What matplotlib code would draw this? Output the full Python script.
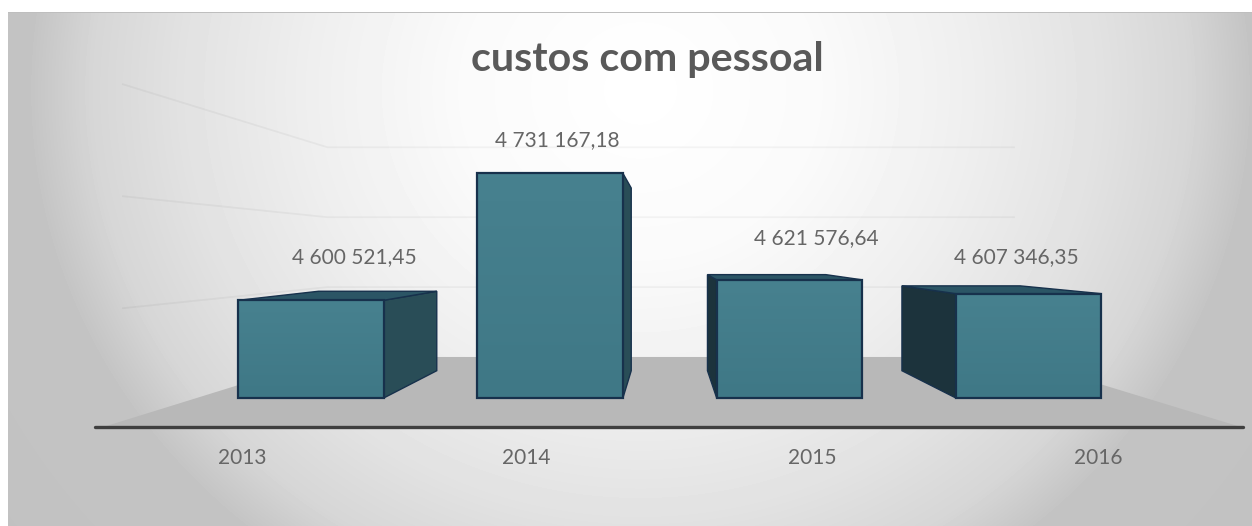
import numpy as np
import matplotlib
matplotlib.use("Agg")
import matplotlib.pyplot as plt
from matplotlib.colors import LinearSegmentedColormap
from matplotlib.patches import Polygon, Rectangle

categories = ["2013", "2014", "2015", "2016"]
values = [4600521.45, 4731167.18, 4621576.64, 4607346.35]
value_labels = ["4 600 521,45", "4 731 167,18", "4 621 576,64", "4 607 346,35"]
gridline_values = [4600000, 4700000, 4800000]
title = "custos com pessoal"

W, H = 1252, 526
plt.rcParams["font.family"] = ["Lato", "DejaVu Sans"]
fig = plt.figure(figsize=(W / 100, H / 100), dpi=100, facecolor="white")

# background gradient
bg = fig.add_axes([0, 0, 1, 1])
bg.set_axis_off()
yy, xx = np.mgrid[0:H, 0:W]
d = np.sqrt(((xx - 640) / 610.0) ** 2 + ((yy - 90) / 570.0) ** 2)
grey = np.interp(d, [0, 0.3, 0.55, 0.75, 0.9, 1.0, 1.4], [255, 250, 238, 226, 214, 196, 192])
grey[:12, :] = 255
grey[:, :8] = 255
grey[12, 8:] = 190
bg.imshow(grey, cmap="gray", vmin=0, vmax=255, extent=(0, W, H, 0), aspect="auto", interpolation="bilinear")

# chart axes: x in category index, y in value, at the plane of the bar fronts
ax = fig.add_axes([0, 0, 1, 1])
ax.patch.set_alpha(0)
ax.set_axis_off()
px_per_cat = 239.2
px_per_val = 97.2 / 100000
XLIM = (-311 / px_per_cat, (W - 311) / px_per_cat)
YLIM = (4500000 - (H - 398) / px_per_val, 4500000 + 398 / px_per_val)

VP = (1.49, 4500000 + 146 / px_per_val)
BASE = 4500000
HALF = 0.304
BAR_DEPTH = 0.187
FLOOR_BACK = 0.281
FLOOR_FRONT = -0.2
WALL_FRONT = -0.152
X_LEFT, X_RIGHT = -0.478, 3.49
GRID_LEFT, GRID_RIGHT = -0.486, 3.505


def pt(x, v, t=0.0):
    return (x + (VP[0] - x) * t, v + (VP[1] - v) * t)


# floor
ax.add_patch(Polygon([pt(X_LEFT, BASE, FLOOR_FRONT), pt(X_RIGHT, BASE, FLOOR_FRONT),
                      pt(X_RIGHT, BASE, FLOOR_BACK), pt(X_LEFT, BASE, FLOOR_BACK)],
                     fc="#b8b8b8", ec="none", zorder=1))

# gridlines
for g in gridline_values:
    p = [pt(GRID_LEFT, g, WALL_FRONT), pt(GRID_LEFT, g, FLOOR_BACK), pt(GRID_RIGHT, g, FLOOR_BACK)]
    ax.plot(*zip(*p), color="black", alpha=0.04, lw=1.3, zorder=1.5, solid_joinstyle="round")

# axis line
a = pt(X_LEFT - 0.025, BASE, FLOOR_FRONT)
b = pt(X_RIGHT + 0.005, BASE, FLOOR_FRONT)
ax.plot([a[0], b[0]], [a[1], b[1]], color="#3f3f3f", lw=2.4, zorder=2, solid_capstyle="round")

EDGE = "#17314c"
face_cmap = LinearSegmentedColormap.from_list("f", ["#47818f", "#3f7886"])
for i, v in enumerate(values):
    xl, xr = i - HALF, i + HALF
    if xr < VP[0]:
        side = [pt(xr, BASE), pt(xr, v), pt(xr, v, BAR_DEPTH), pt(xr, BASE, BAR_DEPTH)]
        col = "#294d57"
    else:
        side = [pt(xl, BASE), pt(xl, v), pt(xl, v, BAR_DEPTH), pt(xl, BASE, BAR_DEPTH)]
        col = "#1c333c"
    ax.add_patch(Polygon(side, fc=col, ec=EDGE, lw=1.0, zorder=3))
    if v < VP[1]:
        top = [pt(xl, v), pt(xr, v), pt(xr, v, BAR_DEPTH), pt(xl, v, BAR_DEPTH)]
        ax.add_patch(Polygon(top, fc="#2b5565", ec=EDGE, lw=1.0, zorder=3))
    ax.imshow(np.linspace(0, 1, 64).reshape(-1, 1), extent=(xl, xr, BASE, v), origin="upper",
              aspect="auto", zorder=4, cmap=face_cmap)
    ax.add_patch(Rectangle((xl, BASE), xr - xl, v - BASE, fc="none", ec=EDGE, lw=1.6, zorder=5))

ax.set_xlim(*XLIM)
ax.set_ylim(*YLIM)

TEXT = "#666666"
label_offsets = [(43.5, 43), (7, 33.5), (26.5, 42), (-12.5, 37)]
for i, v in enumerate(values):
    dx, dy = label_offsets[i]
    ax.annotate(value_labels[i], (i, v), xytext=(dx * 0.72, dy * 0.72), textcoords="offset points",
                ha="center", va="center", fontsize=15, color=TEXT, zorder=6)

cat_offsets = [-69, -24, 22.5, 69.5]
for i, c in enumerate(categories):
    ax.annotate(c, (i, BASE), xytext=(cat_offsets[i] * 0.72, -60.5 * 0.72), textcoords="offset points",
                ha="center", va="center", fontsize=15, color=TEXT, zorder=6)

fig.text(647 / W, 1 - 60 / H, title, ha="center", va="center", fontsize=29.7, fontweight="bold", color="#595959")

fig.savefig("out.png", dpi=100, facecolor="white")
